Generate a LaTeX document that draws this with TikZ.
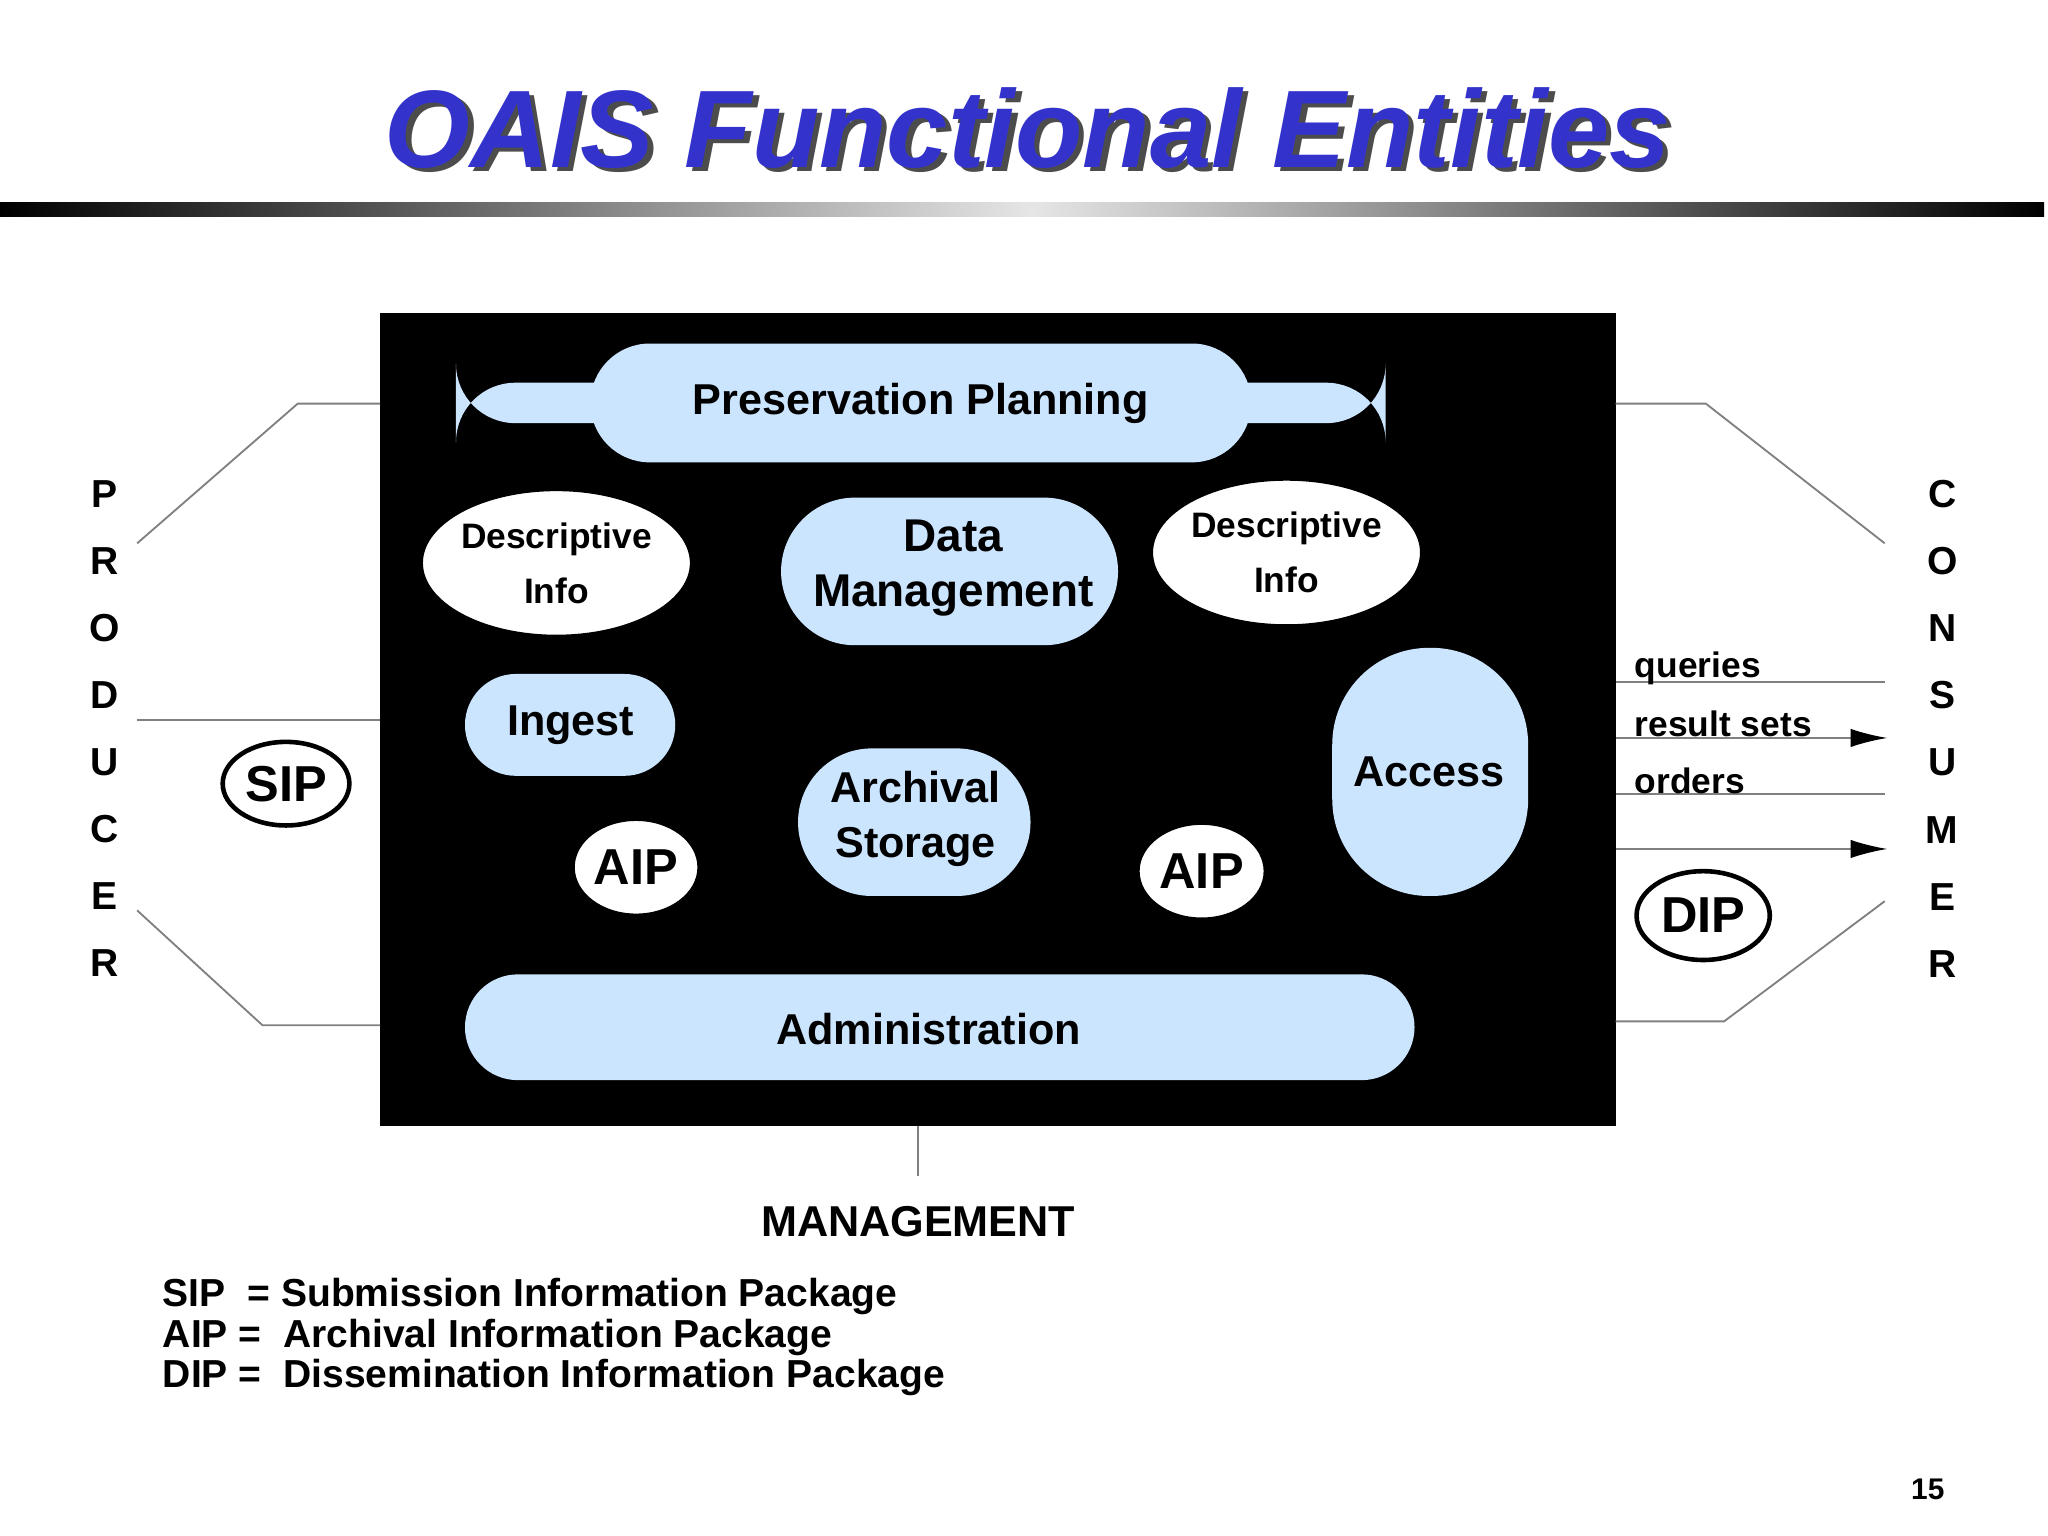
\documentclass[tikz,border=0pt]{standalone}
\usepackage{fontspec}
\setmainfont{Liberation Sans}
\usetikzlibrary{shapes.geometric,arrows.meta}
\definecolor{lb}{HTML}{CCE5FF}
\definecolor{tblue}{HTML}{3333CC}
\tikzset{
 ent/.style={fill=lb,font=\bfseries,align=center,inner sep=0pt},
 ell/.style={ellipse,fill=white,draw=black,line width=0.6pt,font=\bfseries,align=center,inner sep=0pt},
 gl/.style={draw=gray,line width=0.4pt},
 ga/.style={draw=gray,line width=0.4pt,-{Latex[length=8pt,width=4pt,black]}},
 lbl/.style={font=\bfseries\fontsize{7.7}{9}\selectfont,anchor=west,inner sep=0pt},
 vert/.style={font=\bfseries\fontsize{8.5}{11}\selectfont,align=center,inner sep=0pt}
}
\begin{document}
\begin{tikzpicture}[x=0.01cm,y=-0.01cm]
\useasboundingbox (0,0) rectangle (1568,1176);
\fill[white] (0,0) rectangle (1568,1176);
% title
\node[font=\bfseries\itshape\fontsize{24}{28}\selectfont,text=black!70] at (791,101) {OAIS Functional Entities};
\node (title)[font=\bfseries\itshape\fontsize{24}{28}\selectfont,text=tblue] at (787,98) {OAIS Functional Entities};
% bar
\shade[left color=black,right color=black!10] (0,155) rectangle (790,166);
\shade[left color=black!10,right color=black] (790,155) rectangle (1565,166);
% black box
\fill[black] (291,240) rectangle (1237,862);
\coordinate (bx) at (291,240);
% entities
\node (pp)[ent,minimum width=506\pgflinewidth,rounded corners=45.5*0.01cm] at (705,308.5) {\fontsize{9.4}{11}\selectfont Preservation Planning};
\fill[lb,rounded corners=0.455cm] (452,263) rectangle (958,354);
\node at (705,308.5) {\bfseries\fontsize{9.4}{11}\selectfont Preservation Planning};
\fill[lb,rounded corners=0.565cm] (598,381) rectangle (856,494);
\node (dm)[align=center] at (730,435) {\bfseries\fontsize{10}{10.5}\selectfont Data\\\bfseries\fontsize{10}{10.5}\selectfont Management};
\fill[lb,rounded corners=0.39cm] (356,516) rectangle (517,594);
\node (ing) at (437,555) {\bfseries\fontsize{9.4}{11}\selectfont Ingest};
\fill[lb,rounded corners=0.74cm] (1020,496) rectangle (1170,686);
\node (acc) at (1094,591) {\bfseries\fontsize{9.4}{11}\selectfont Access};
\fill[lb,rounded corners=0.565cm] (611,573) rectangle (789,686);
\node (as)[align=center] at (701,627) {\bfseries\fontsize{9.4}{10}\selectfont Archival\\\bfseries\fontsize{9.4}{10}\selectfont Storage};
\fill[lb,rounded corners=0.405cm] (356,746) rectangle (1083,827);
\node (adm) at (711,788) {\bfseries\fontsize{9.4}{11}\selectfont Administration};
% ellipses
\node (di1)[ell,minimum width=198*0.01cm,minimum height=112*0.01cm] at (426,431) {\fontsize{7.7}{10}\selectfont Descriptive\\\fontsize{7.7}{10}\selectfont Info};
\node (di2)[ell,minimum width=198*0.01cm,minimum height=112*0.01cm] at (985,423) {\fontsize{7.7}{10}\selectfont Descriptive\\\fontsize{7.7}{10}\selectfont Info};
\node (aip1)[ell,minimum width=96*0.01cm,minimum height=73*0.01cm] at (487,664) {\fontsize{11}{13}\selectfont AIP};
\node (aip2)[ell,minimum width=97*0.01cm,minimum height=73*0.01cm] at (920,667) {\fontsize{11}{13}\selectfont AIP};
\node (sip)[ell,line width=1pt,minimum width=97*0.01cm,minimum height=64*0.01cm] at (219,600) {\fontsize{11}{13}\selectfont SIP};
\node (dip)[ell,line width=1pt,minimum width=102*0.01cm,minimum height=68*0.01cm] at (1304,701) {\fontsize{11}{13}\selectfont DIP};
% producer lines
\coordinate (p1) at (291,309); \coordinate (p1b) at (228,309); \coordinate (p1c) at (105,416);
\coordinate (p2) at (291,551); \coordinate (p2b) at (105,551);
\coordinate (p3) at (291,785); \coordinate (p3b) at (201,785); \coordinate (p3c) at (105,697);
\draw[gl] (p1)--(p1b)--(p1c);
\draw[gl] (p2)--(p2b);
\draw[gl] (p3)--(p3b)--(p3c);
% consumer lines
\coordinate (c1) at (1237,309); \coordinate (c1b) at (1306,309); \coordinate (c1c) at (1443,416);
\coordinate (c2) at (1237,522); \coordinate (c2b) at (1443,522);
\coordinate (c3) at (1237,565); \coordinate (c3b) at (1445,565);
\coordinate (c4) at (1237,608); \coordinate (c4b) at (1443,608);
\coordinate (c5) at (1237,650); \coordinate (c5b) at (1445,650);
\coordinate (c6) at (1237,782); \coordinate (c6b) at (1320,782); \coordinate (c6c) at (1443,690);
\draw[gl] (c1)--(c1b)--(c1c);
\draw[gl] (c2)--(c2b);
\draw[ga] (c3)--(c3b);
\draw[gl] (c4)--(c4b);
\draw[ga] (c5)--(c5b);
\draw[gl] (c6)--(c6b)--(c6c);
\node (q)[lbl] at (1251,512) {queries};
\node (rs)[lbl] at (1251,554) {result sets};
\node (ord)[lbl] at (1251,598) {orders};
% management
\coordinate (m1) at (703,862); \coordinate (m2) at (703,900);
\draw[gl] (m1)--(m2);
\node (mg) at (703,935) {\bfseries\fontsize{9.4}{11}\selectfont MANAGEMENT};
% producer / consumer letters
\node (prod)[vert] at (80,558) {P\\[3.6pt]R\\[3.6pt]O\\[3.6pt]D\\[3.6pt]U\\[3.6pt]C\\[3.6pt]E\\[3.6pt]R};
\node (cons)[vert] at (1487,558) {C\\[3.6pt]O\\[3.6pt]N\\[3.6pt]S\\[3.6pt]U\\[3.6pt]M\\[3.6pt]E\\[3.6pt]R};
% legend
\node (leg)[anchor=north west,align=left,inner sep=0pt,font=\bfseries\fontsize{8.5}{8.8}\selectfont] at (124,978) {SIP\ \ = Submission Information Package\\AIP =\ \ Archival Information Package\\DIP =\ \ Dissemination Information Package};
\node (pg) at (1476,1140) {\bfseries\fontsize{6.5}{8}\selectfont 15};
\end{tikzpicture}
\end{document}
